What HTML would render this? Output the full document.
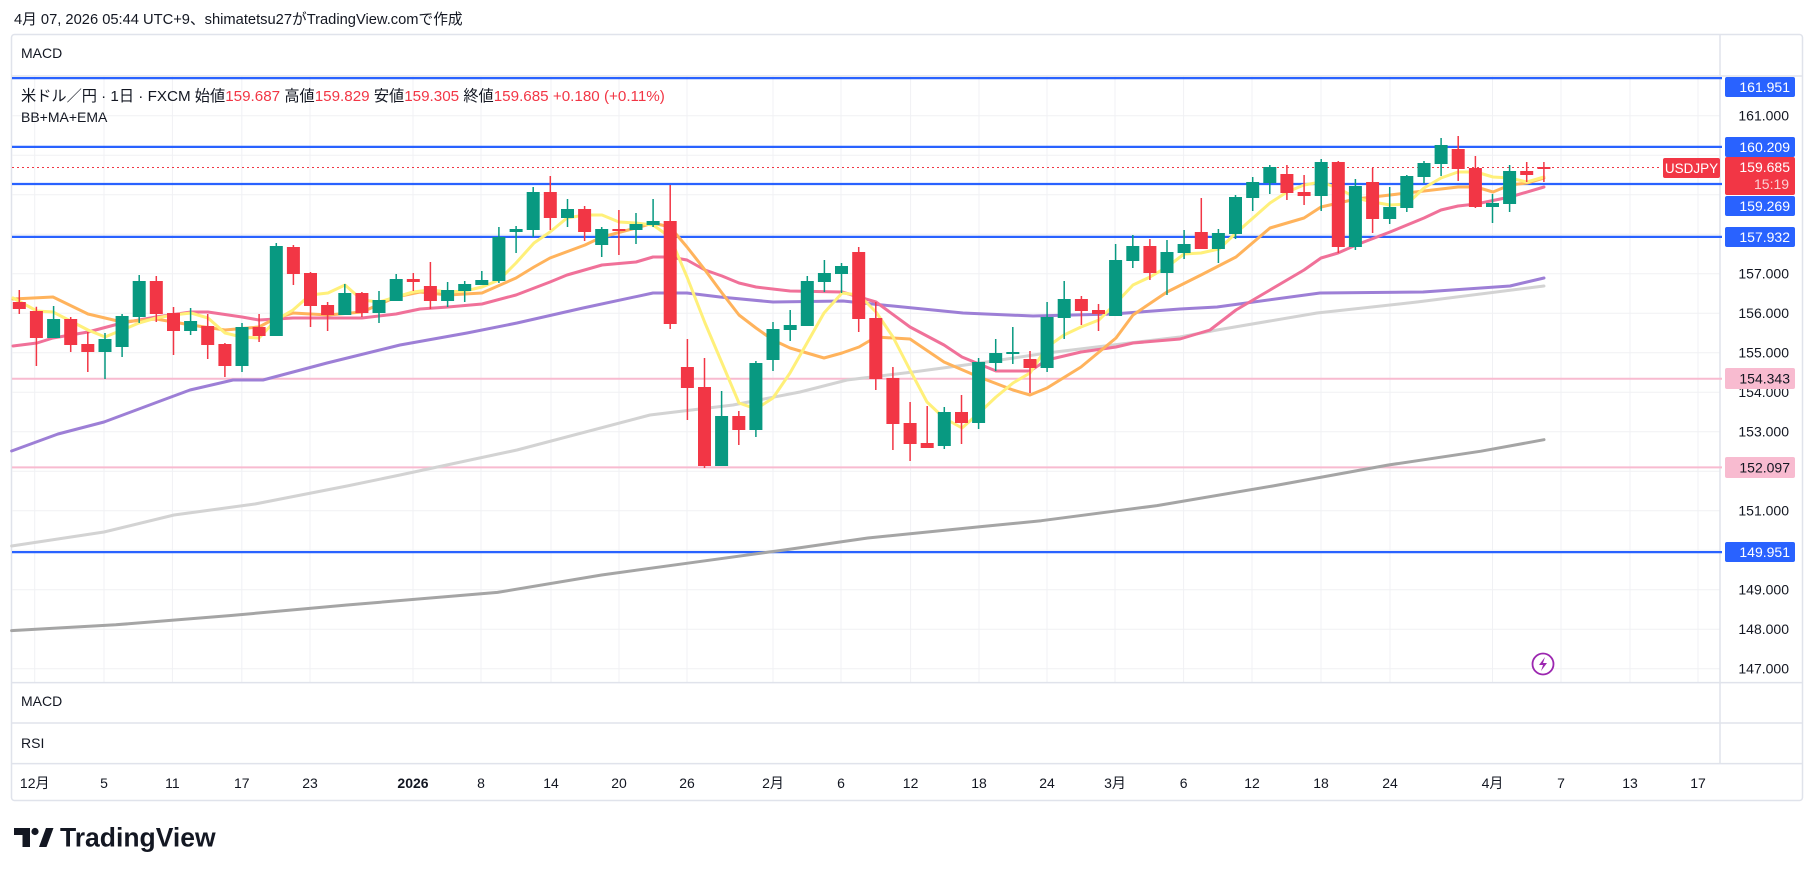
<!DOCTYPE html>
<html><head><meta charset="utf-8"><style>
html,body{margin:0;padding:0;background:#fff;}
svg{display:block;font-family:"Liberation Sans","Noto Sans CJK JP",sans-serif;}
</style></head><body>
<svg width="1814" height="876" viewBox="0 0 1814 876" xmlns="http://www.w3.org/2000/svg">
<rect width="1814" height="876" fill="#fff"/>
<text x="14" y="24" font-size="14.7" fill="#131722">4月 07, 2026 05:44 UTC+9、shimatetsu27がTradingView.comで作成</text>
<rect x="11.5" y="34.5" width="1791" height="766" fill="#fff" stroke="#e0e3eb" stroke-width="1.5" rx="3"/>
<!-- grid -->
<g stroke="#f0f1f4" stroke-width="1">
<path d="M12 115.7H1720M12 155.2H1720M12 194.7H1720M12 234.2H1720M12 273.7H1720M12 313.2H1720M12 352.7H1720M12 392.2H1720M12 431.7H1720M12 471.2H1720M12 510.7H1720M12 550.2H1720M12 589.7H1720M12 629.2H1720M12 668.7H1720"/>
<path d="M34.7 76V682M104 76V682M172.4 76V682M241.8 76V682M310 76V682M413 76V682M481 76V682M551 76V682M619 76V682M687 76V682M773 76V682M841 76V682M910.6 76V682M979 76V682M1047 76V682M1115 76V682M1183.6 76V682M1252 76V682M1321 76V682M1390 76V682M1492.5 76V682M1561 76V682M1630 76V682M1698 76V682"/>
</g>
<g stroke="#e0e3eb" stroke-width="1.5">
<path d="M12 76H1802M12 682.6H1802M12 723H1802M12 763.6H1802M1720 35V763.6"/>
</g>
<text x="21" y="58" font-size="14" fill="#131722">MACD</text>
<text x="21" y="706" font-size="14" fill="#131722">MACD</text>
<text x="21" y="748" font-size="14" fill="#131722">RSI</text>
<g stroke-width="2.2" stroke="#2962ff">
<path d="M12 78.1H1722M12 146.9H1722M12 184H1722M12 236.9H1722M12 552.1H1722"/>
</g>
<g stroke-width="2" stroke="#f8bbd0"><path d="M12 378.7H1722M12 467.4H1722"/></g>
<path d="M12 167.5H1662" stroke="#f23645" stroke-width="1" stroke-dasharray="2 3"/>
<g fill="none" stroke-width="3" stroke-linejoin="round" stroke-linecap="round">
<polyline stroke="#a5a5a5" points="11.6,630.6 115.7,624.8 231,615.5 347,605 497.5,592.4 601.6,575 694,562.3 786.8,549.6 867.8,538 983.5,526.4 1041.3,520.7 1157,505.6 1272.7,486 1388.4,465 1481,451.2 1544,439.7"/>
<polyline stroke="#d3d3d3" points="11.6,546 104,532 174,515 255,504 347,486 400,475 517,450 650,415 733,405 800,392 847,380 913,372 980,363 1047,353 1113,345 1180,337 1217,330 1317,313 1417,302 1544,286"/>
<polyline stroke="#9d7fd6" points="11.6,451 58,434 104,422 163,400 190,390 233,380 263,380 327,363 400,345 467,333 517,323 583,308 653,293 687,293 720,297 773,302 843,301 893,306 963,313 1033,316 1113,314 1180,309 1217,307 1320,293 1423,292 1510,286 1544,278"/>
<polyline stroke="#f07199" points="13,346 37,343 53,338 88,332 122,323 156,317 191,312 208,312 242,317 259,320 293,318 362,318 396,314 420,309 448,307 482,304 516,295 550,282 567,275 602,265 636,262 653,257 670,257 687,260 705,270 722,276 739,283 756,287 790,291 842,292 876,302 910,327 944,345 962,357 996,371 1030,371 1047,360 1081,352 1116,347 1133,343 1180,339 1210,330 1236,310 1270,290 1304,270 1321,258 1338,253 1356,245 1390,232 1424,218 1441,210 1458,206 1476,204 1510,197 1544,187"/>
<polyline stroke="#ffb35c" points="13,299 53,297 88,314 122,322 156,319 191,325 225,330 259,327 276,318 293,313 328,315 362,312 396,297 420,292 448,295 482,293 516,278 534,267 550,258 585,245 602,237 636,228 653,223 670,227 687,247 705,270 722,293 739,315 756,328 773,340 790,348 824,358 842,353 859,347 876,337 910,339 944,362 979,377 1013,390 1030,395 1047,388 1081,367 1116,338 1133,315 1167,292 1201,275 1236,257 1270,228 1304,218 1321,207 1356,199 1390,195 1424,191 1458,187 1476,187 1493,192 1510,185 1527,183 1544,178"/>
<polyline stroke="#fff07a" points="13,298 37,311 53,312 88,330 105,337 122,330 139,323 156,318 173,315 191,313 208,318 225,333 242,337 259,338 276,320 293,310 310,295 328,293 345,285 362,300 379,302 396,297 413,292 430,290 448,292 465,291 482,287 499,280 516,263 534,243 550,232 567,218 585,215 602,215 619,222 636,223 653,225 670,237 687,277 705,323 722,363 739,403 756,409 773,398 790,373 807,343 824,313 842,293 859,295 876,312 893,337 910,370 927,402 944,418 962,428 979,413 996,397 1013,383 1030,373 1047,347 1064,335 1081,327 1099,320 1116,303 1133,285 1150,277 1167,267 1184,254 1201,253 1219,249 1236,233 1253,218 1270,203 1287,192 1304,185 1321,182 1338,188 1356,198 1373,202 1390,205 1407,204 1424,188 1441,178 1458,172 1476,172 1493,177 1510,178 1527,182 1544,177"/>
</g>
<g fill="#089981">
<path stroke="#089981" stroke-width="1.5" d="M53.6 306V338M105 333V379M122.1 314V357M139.2 275V323M190.6 308V335M242 323V372M276.3 243V336M344.8 284V315M379 291V323M396.2 274V301M447.6 282V307M464.7 281V302M481.8 271V285M498.9 227V283M516.1 226V253M533.2 187V237M567.5 199V227M601.7 227V257M636 213V244M653.1 199V227M721.6 391V466M755.9 361V437M773 322V371M790.2 310V341M807.3 276V326M824.4 260V292M841.5 263V293M944.3 407V449M978.6 358V429M995.7 339V371M1012.8 327V364M1047.1 302V372M1064.2 281V339M1115.6 244V316M1132.8 235V268M1167 240V295M1184.1 230V259M1218.4 229V263M1235.5 195V239M1252.7 177V211M1269.8 165V194M1321.2 159V211M1355.4 179V250M1389.7 187V224M1406.8 175V212M1424 161V183M1441.1 138V176M1492.5 194V223M1509.6 165V212"/>
<rect x="47.1" y="319" width="13" height="19"/><rect x="98.5" y="339" width="13" height="13"/><rect x="115.6" y="316" width="13" height="31"/><rect x="132.7" y="281" width="13" height="36"/><rect x="184.1" y="321" width="13" height="10"/><rect x="235.5" y="327" width="13" height="39"/><rect x="269.8" y="246" width="13" height="90"/><rect x="338.3" y="293" width="13" height="22"/><rect x="372.5" y="300" width="13" height="13"/><rect x="389.7" y="279" width="13" height="22"/><rect x="441.1" y="290" width="13" height="11"/><rect x="458.2" y="284" width="13" height="7"/><rect x="475.3" y="280" width="13" height="5"/><rect x="492.4" y="237" width="13" height="44"/><rect x="509.6" y="229" width="13" height="3"/><rect x="526.7" y="192" width="13" height="38"/><rect x="561" y="209" width="13" height="9"/><rect x="595.2" y="229" width="13" height="16"/><rect x="629.5" y="224" width="13" height="6"/><rect x="646.6" y="221" width="13" height="4"/><rect x="715.1" y="416" width="13" height="50"/><rect x="749.4" y="363" width="13" height="67"/><rect x="766.5" y="329" width="13" height="31"/><rect x="783.7" y="325" width="13" height="5"/><rect x="800.8" y="281" width="13" height="45"/><rect x="817.9" y="273" width="13" height="9"/><rect x="835" y="266" width="13" height="8"/><rect x="937.8" y="412" width="13" height="34"/><rect x="972.1" y="362" width="13" height="61"/><rect x="989.2" y="353" width="13" height="10"/><rect x="1006.3" y="352" width="13" height="2"/><rect x="1040.6" y="317" width="13" height="51"/><rect x="1057.7" y="299" width="13" height="19"/><rect x="1109.1" y="260" width="13" height="56"/><rect x="1126.3" y="246" width="13" height="15"/><rect x="1160.5" y="252" width="13" height="21"/><rect x="1177.6" y="244" width="13" height="9"/><rect x="1211.9" y="233" width="13" height="16"/><rect x="1229" y="197" width="13" height="37"/><rect x="1246.2" y="182" width="13" height="16"/><rect x="1263.3" y="167" width="13" height="16"/><rect x="1314.7" y="162" width="13" height="34"/><rect x="1348.9" y="186" width="13" height="61"/><rect x="1383.2" y="207" width="13" height="12"/><rect x="1400.3" y="176" width="13" height="32"/><rect x="1417.5" y="163" width="13" height="14"/><rect x="1434.6" y="145" width="13" height="19"/><rect x="1486" y="203" width="13" height="4"/><rect x="1503.1" y="171" width="13" height="33"/>
</g>
<g fill="#f23645">
<path stroke="#f23645" stroke-width="1.5" d="M19.3 290V314M36.4 306.7V366M70.7 317V352M87.8 332V372M156.3 276V322M173.5 307V355M207.7 314V359M224.9 343V377M259.1 314V342M293.4 245V285M310.5 272V327M327.6 302V331M361.9 292V317M413.3 273V291M430.4 262V309M550.3 176V230M584.6 206V241M618.9 210V255M670.2 185V329M687.4 339V420M704.5 358V468M738.8 411V445M858.7 247V332M875.8 302V390M892.9 367V450M910.1 402V461M927.2 406V448M961.5 395V444M1030 351V393M1081.4 296V325M1098.5 304V331M1149.9 239V280M1201.3 198V249M1286.9 165V200M1304.1 175V205M1338.3 161V253M1372.6 168V233M1458.2 136V181M1475.4 156V208M1526.7 162V182M1543.9 162V182"/>
<rect x="12.8" y="302" width="13" height="7"/><rect x="29.9" y="311" width="13" height="27"/><rect x="64.2" y="319" width="13" height="26"/><rect x="81.3" y="344" width="13" height="8"/><rect x="149.8" y="281" width="13" height="33"/><rect x="167" y="313" width="13" height="18"/><rect x="201.2" y="326" width="13" height="19"/><rect x="218.4" y="344" width="13" height="22"/><rect x="252.6" y="327" width="13" height="9"/><rect x="286.9" y="247" width="13" height="27"/><rect x="304" y="273" width="13" height="33"/><rect x="321.1" y="305" width="13" height="10"/><rect x="355.4" y="293" width="13" height="20"/><rect x="406.8" y="279" width="13" height="3"/><rect x="423.9" y="286" width="13" height="15"/><rect x="543.8" y="192" width="13" height="26"/><rect x="578.1" y="209" width="13" height="23"/><rect x="612.4" y="229" width="13" height="2"/><rect x="663.7" y="221" width="13" height="103"/><rect x="680.9" y="367" width="13" height="21"/><rect x="698" y="387" width="13" height="79"/><rect x="732.3" y="416" width="13" height="14"/><rect x="852.2" y="252" width="13" height="67"/><rect x="869.3" y="318" width="13" height="61"/><rect x="886.4" y="378" width="13" height="46"/><rect x="903.6" y="423" width="13" height="21"/><rect x="920.7" y="443" width="13" height="5"/><rect x="955" y="412" width="13" height="11"/><rect x="1023.5" y="359" width="13" height="9"/><rect x="1074.9" y="299" width="13" height="12"/><rect x="1092" y="310" width="13" height="4"/><rect x="1143.4" y="246" width="13" height="27"/><rect x="1194.8" y="232" width="13" height="17"/><rect x="1280.4" y="174" width="13" height="19"/><rect x="1297.6" y="192" width="13" height="4"/><rect x="1331.8" y="162" width="13" height="85"/><rect x="1366.1" y="182" width="13" height="37"/><rect x="1451.7" y="149" width="13" height="20"/><rect x="1468.9" y="168" width="13" height="39"/><rect x="1520.2" y="171" width="13" height="4"/><rect x="1537.4" y="167" width="13" height="2"/>
</g>
<text x="21" y="101" font-size="15.2" fill="#131722">米ドル／円 · 1日 · FXCM  始値<tspan fill="#f23645">159.687</tspan>  高値<tspan fill="#f23645">159.829</tspan>  安値<tspan fill="#f23645">159.305</tspan>  終値<tspan fill="#f23645">159.685  +0.180 (+0.11%)</tspan></text>
<text x="21" y="122" font-size="14" fill="#131722">BB+MA+EMA</text>
<g font-size="14" fill="#131722" text-anchor="end">
<text x="1789" y="120.5">161.000</text><text x="1789" y="278.5">157.000</text><text x="1789" y="318">156.000</text><text x="1789" y="357.5">155.000</text><text x="1789" y="397">154.000</text><text x="1789" y="436.5">153.000</text><text x="1789" y="515.5">151.000</text><text x="1789" y="594.5">149.000</text><text x="1789" y="634">148.000</text><text x="1789" y="673.5">147.000</text>
</g>
<g font-size="14" text-anchor="end">
<rect x="1725" y="77" width="70" height="20" rx="2" fill="#2962ff"/><text x="1790" y="92" fill="#fff">161.951</text>
<rect x="1725" y="137" width="70" height="20" rx="2" fill="#2962ff"/><text x="1790" y="152" fill="#fff">160.209</text>
<rect x="1725" y="196" width="70" height="20" rx="2" fill="#2962ff"/><text x="1790" y="211" fill="#fff">159.269</text>
<rect x="1725" y="227" width="70" height="20" rx="2" fill="#2962ff"/><text x="1790" y="242" fill="#fff">157.932</text>
<rect x="1725" y="157" width="70" height="38" rx="2" fill="#f23645"/><text x="1790" y="172" fill="#fff">159.685</text><text x="1754" y="189" fill="#fbd0d4" text-anchor="start">15:19</text>
<rect x="1663" y="158" width="57" height="20" rx="2" fill="#f23645"/><text x="1691.5" y="173" fill="#fff" text-anchor="middle" font-size="13.5">USDJPY</text>
<rect x="1725" y="368" width="70" height="21" rx="2" fill="#f8bbd0"/><text x="1790" y="383.5" fill="#131722">154.343</text>
<rect x="1725" y="457" width="70" height="21" rx="2" fill="#f8bbd0"/><text x="1790" y="472.5" fill="#131722">152.097</text>
<rect x="1725" y="542" width="70" height="20" rx="2" fill="#2962ff"/><text x="1790" y="557" fill="#fff">149.951</text>
</g>
<circle cx="1543" cy="664" r="10.5" fill="#fff" stroke="#9c27b0" stroke-width="1.8"/>
<path d="M1545 657L1539 665H1543L1541 671L1547 663H1543Z" fill="#9c27b0"/>
<g font-size="14" fill="#131722" text-anchor="middle">
<text x="34.7" y="788">12月</text><text x="104" y="788">5</text><text x="172.4" y="788">11</text><text x="241.8" y="788">17</text><text x="310" y="788">23</text><text x="413" y="788" font-weight="bold">2026</text><text x="481" y="788">8</text><text x="551" y="788">14</text><text x="619" y="788">20</text><text x="687" y="788">26</text><text x="773" y="788">2月</text><text x="841" y="788">6</text><text x="910.6" y="788">12</text><text x="979" y="788">18</text><text x="1047" y="788">24</text><text x="1115" y="788">3月</text><text x="1183.6" y="788">6</text><text x="1252" y="788">12</text><text x="1321" y="788">18</text><text x="1390" y="788">24</text><text x="1492.5" y="788">4月</text><text x="1561" y="788">7</text><text x="1630" y="788">13</text><text x="1698" y="788">17</text>
</g>
<g fill="#131722">
<path d="M14 828H30V847H22.5V835H14Z"/>
<circle cx="35" cy="831.5" r="3.6"/>
<path d="M39 847L46 828H53.5L46.5 847Z"/>
<text x="60" y="846.5" font-size="26.5" font-weight="bold">TradingView</text>
</g>
</svg>
</body></html>
